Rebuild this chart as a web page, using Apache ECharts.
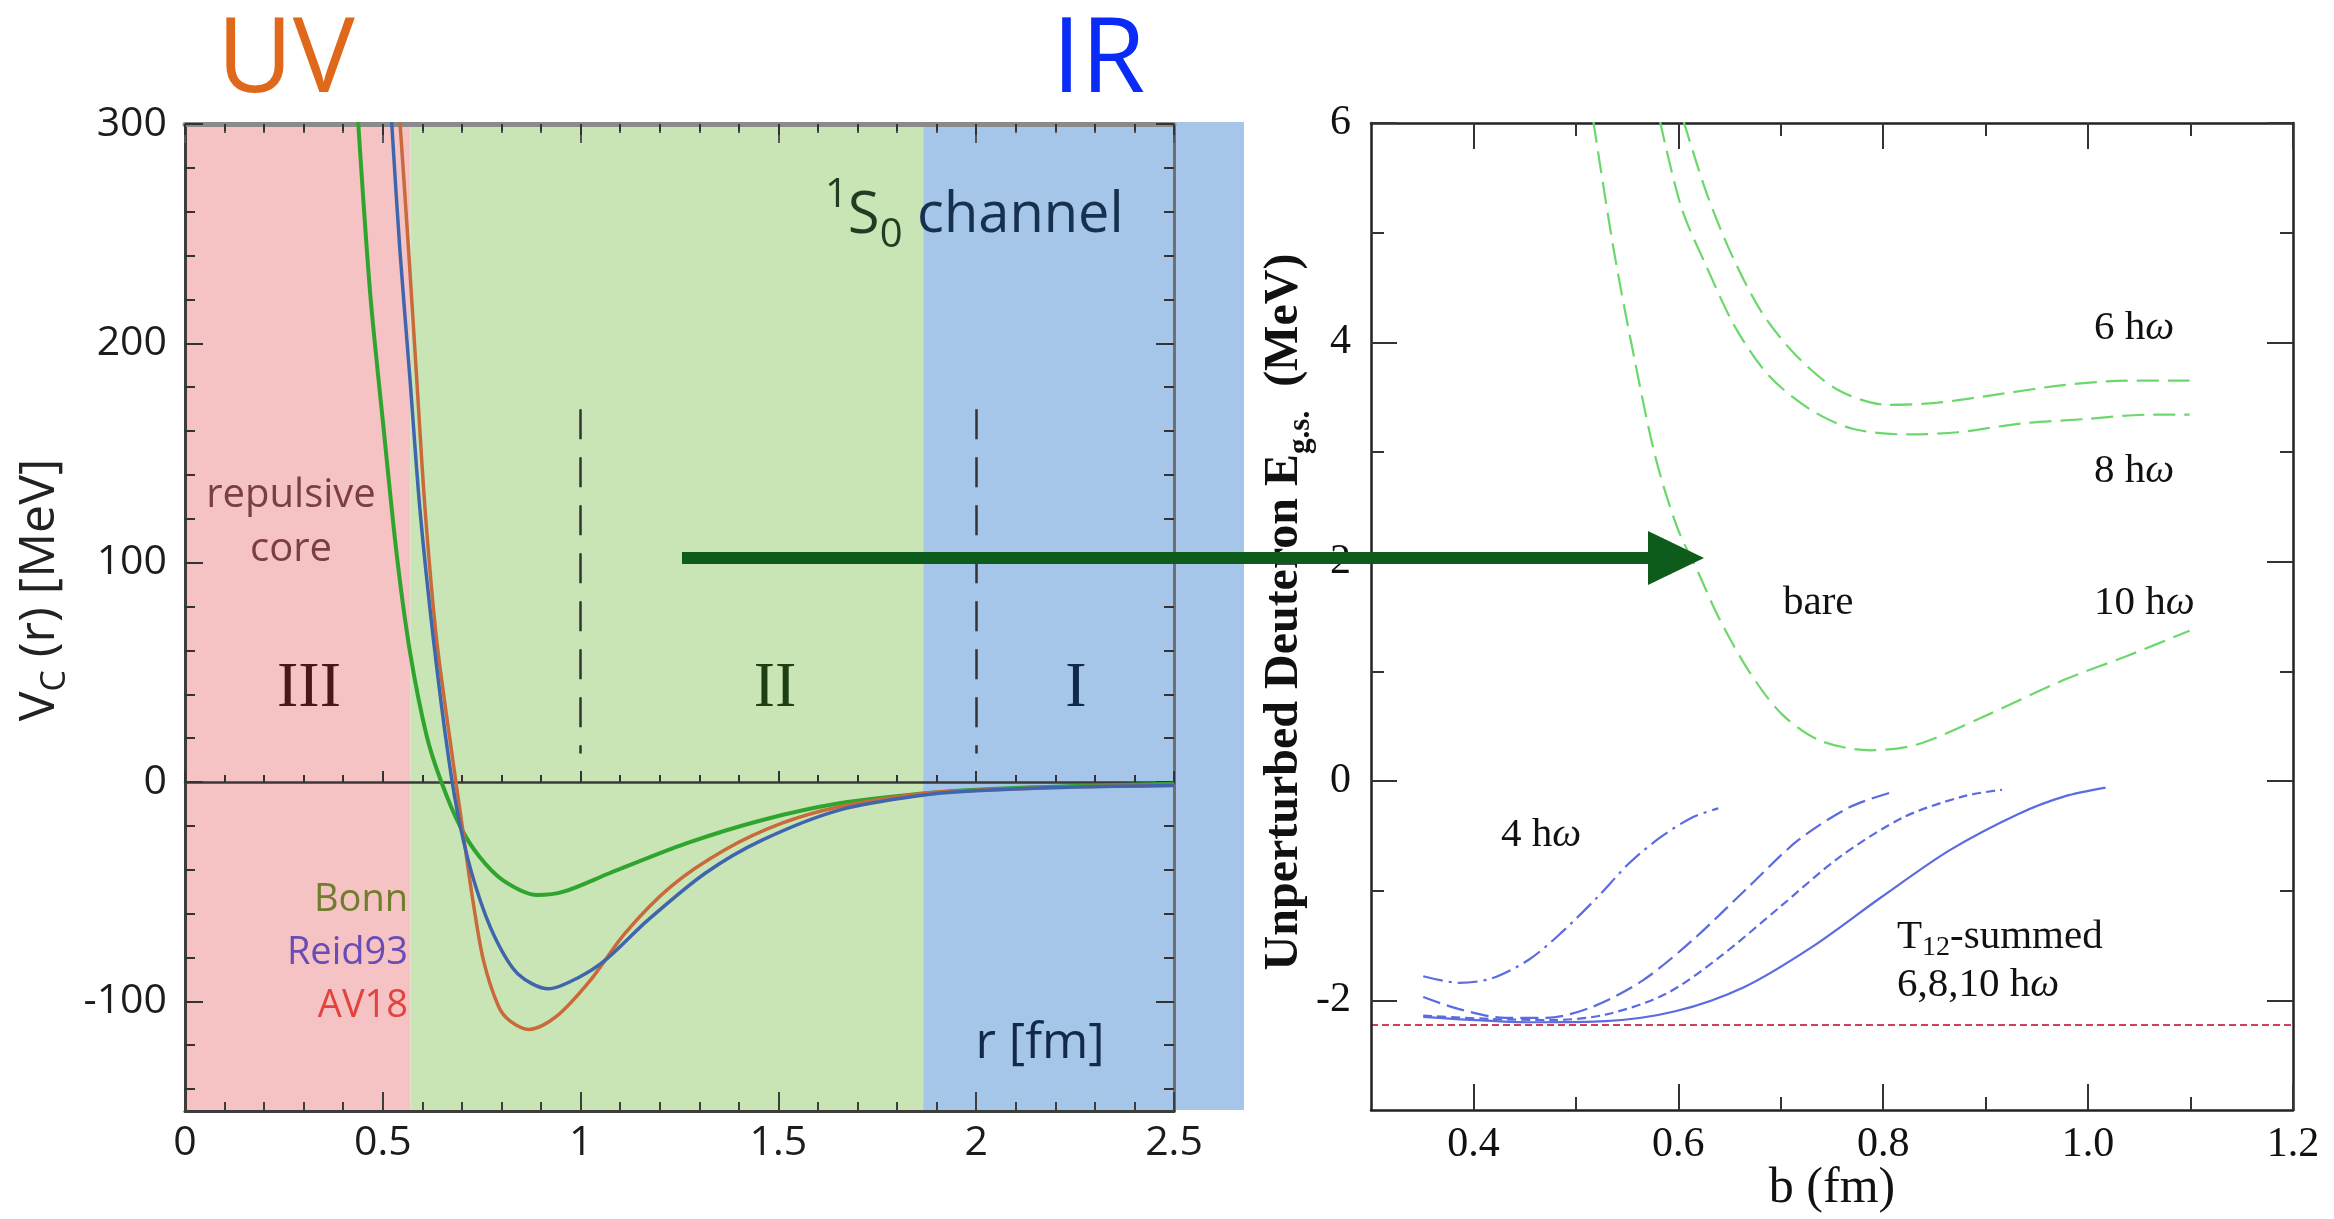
<!DOCTYPE html>
<html>
<head>
<meta charset="utf-8">
<title>1S0 potential and deuteron energy</title>
<script src="https://cdn.jsdelivr.net/npm/echarts@6.0.0/dist/echarts.min.js"></script>
<style>
  html, body { margin: 0; padding: 0; background: #fff; }
  #chart { width: 2334px; height: 1219px; }
</style>
</head>
<body>
<div id="chart"></div>
<script>
// ---- left panel: V_C(r) [MeV] against r [fm] ----
const bonnR = [0.437, 0.468, 0.501, 0.535, 0.569, 0.611, 0.648, 0.696, 0.744, 0.803, 0.890, 0.957, 1.073, 1.267, 1.460, 1.654, 1.865, 2.0, 2.25, 2.5];
const bonnV = [303, 223, 163, 104, 59, 21, 0, -20.4, -34, -44.7, -51.5, -50, -41.6, -28, -17.3, -9.7, -5.2, -3.5, -1.8, -0.8];

const reidR = [0.522, 0.543, 0.569, 0.594, 0.628, 0.667, 0.696, 0.735, 0.783, 0.841, 0.919, 0.996, 1.064, 1.170, 1.315, 1.460, 1.654, 1.865, 2.0, 2.25, 2.5];
const reidV = [302, 243, 183, 124, 65, 10, -20.4, -47.8, -70.7, -87.4, -94.3, -89, -81, -63, -41.6, -26.4, -12.8, -6, -4, -2.3, -1.6];

const av18R = [0.543, 0.565, 0.586, 0.607, 0.636, 0.677, 0.701, 0.725, 0.754, 0.793, 0.822, 0.870, 0.938, 1.025, 1.112, 1.228, 1.364, 1.509, 1.654, 1.865, 2.0, 2.25, 2.5];
const av18V = [302, 243, 183, 124, 65, 10, -20.4, -50.8, -81, -102.5, -109, -112.8, -107, -90.3, -69, -47.7, -31, -18.8, -11.3, -5.2, -3.8, -2.2, -1.5];

const regionEdges = [0, 0.57, 1.866, 2.5];          // III | II | I
const regionColors = ['#f5c3c3', '#c9e5b5', '#a5c6e8'];
const dashedR = [1, 2];
const dashedSpan = [170, 13];

// ---- right panel: unperturbed deuteron E_g.s. (MeV) against b (fm) ----
const bare6B = [0.605, 0.628, 0.652, 0.681, 0.714, 0.755, 0.804, 0.853, 0.915, 0.976, 1.038, 1.099];
const bare6E = [6.02, 5.35, 4.80, 4.28, 3.89, 3.57, 3.43, 3.45, 3.53, 3.61, 3.65, 3.65];
const bare8B = [0.582, 0.603, 0.628, 0.656, 0.689, 0.730, 0.771, 0.824, 0.873, 0.935, 0.997, 1.058, 1.099];
const bare8E = [6.02, 5.23, 4.68, 4.13, 3.69, 3.38, 3.21, 3.16, 3.18, 3.26, 3.30, 3.34, 3.34];
const bare10B = [0.517, 0.537, 0.558, 0.578, 0.599, 0.619, 0.640, 0.669, 0.701, 0.738, 0.787, 0.832, 0.894, 0.976, 1.038, 1.099];
const bare10E = [6.02, 4.84, 3.81, 2.94, 2.31, 1.91, 1.48, 1.00, 0.61, 0.37, 0.28, 0.33, 0.57, 0.92, 1.14, 1.37];

const t4B = [0.351, 0.386, 0.418, 0.454, 0.485, 0.521, 0.552, 0.583, 0.614, 0.639];
const t4E = [-1.78, -1.84, -1.80, -1.63, -1.39, -1.06, -0.75, -0.51, -0.33, -0.25];
const t6B = [0.351, 0.386, 0.431, 0.471, 0.516, 0.565, 0.614, 0.668, 0.717, 0.767, 0.809];
const t6E = [-1.97, -2.08, -2.16, -2.16, -2.06, -1.82, -1.45, -0.97, -0.54, -0.24, -0.10];
const t8B = [0.351, 0.418, 0.476, 0.529, 0.588, 0.641, 0.699, 0.758, 0.820, 0.878, 0.916];
const t8E = [-2.14, -2.17, -2.18, -2.13, -1.94, -1.60, -1.15, -0.69, -0.33, -0.14, -0.08];
const t10B = [0.351, 0.462, 0.529, 0.597, 0.664, 0.731, 0.798, 0.865, 0.932, 0.977, 1.017];
const t10E = [-2.15, -2.20, -2.19, -2.10, -1.88, -1.51, -1.06, -0.63, -0.30, -0.14, -0.06];

const deuteronE = -2.224;

// ---- layout ----
const sansF = '"Open Sans", "Liberation Sans", sans-serif';
const serifF = '"Liberation Serif", "DejaVu Serif", serif';

const L = { left: 185, top: 124, width: 989, height: 987 };   // r 0..2.5, V -150..300
const R = { left: 1371, top: 123, width: 922, height: 987 };  // b 0.3..1.2, E -3..6
const vPx = v => L.top + (300 - v) * L.height / 450;
const bPx = b => R.left + (b - 0.3) * R.width / 0.9;
const ePx = e => R.top + (6 - e) * R.height / 9;

const zip = (xs, ys) => xs.map((x, i) => [x, ys[i]]);
const g = o => Object.assign({ outerBoundsMode: 'none', containLabel: false }, o);

const grids = [
  g(L),                                                            // 0 left data
  g(R),                                                            // 1 right data
  g(L),                                                            // 2 zero line
  g({ left: L.left, width: L.width, top: L.top, height: vPx(-100) - L.top }),         // 3 left y ticks
  g({ left: L.left, width: L.width, top: vPx(-100), height: vPx(-140) - vPx(-100) }), // 4 left y ticks below -100
  g({ left: bPx(0.4), width: R.left + R.width - bPx(0.4), top: R.top, height: R.height }), // 5 right x ticks
  g({ left: R.left, width: R.width, top: R.top, height: ePx(-2) - R.top })            // 6 right y ticks
];

const off = { show: false };
const hiddenAxis = gi => ({ type: 'value', gridIndex: gi, show: false, min: 0, max: 1 });
const frame = (gi, pos, min, max, color, width) => ({
  type: 'value', gridIndex: gi, position: pos, min, max, z: 5,
  axisLine: { show: true, onZero: false, lineStyle: { color, width } },
  axisTick: off, axisLabel: off, splitLine: off
});
const ticks = (gi, pos, min, max, interval, len, minorSplit, minorLen, label, extra) => Object.assign({
  type: 'value', gridIndex: gi, position: pos, min, max, interval, z: 5,
  axisLine: { show: false, onZero: false },
  axisTick: { show: true, inside: true, length: len, lineStyle: { color: '#333', width: 2 } },
  minorTick: { show: minorSplit > 0, splitNumber: minorSplit || 5, length: minorLen, lineStyle: { color: '#333', width: 2 } },
  minorSplitLine: off, splitLine: off,
  axisLabel: label || off
}, extra || {});

const leftLabel = { show: true, fontFamily: sansF, fontSize: 41, color: '#1c1c1c' };
const rightLabel = { show: true, fontFamily: serifF, fontSize: 42, color: '#111' };

const xAxis = [
  Object.assign(frame(0, 'bottom', 0, 2.5, '#3d3d3d', 3), {
    interval: 0.5,
    axisTick: { show: true, inside: true, length: 19, lineStyle: { color: '#3d3d3d', width: 2 } },
    minorTick: { show: true, splitNumber: 5, length: 9, lineStyle: { color: '#3d3d3d', width: 2 } },
    axisLabel: Object.assign({ margin: 12 }, leftLabel)
  }),
  Object.assign(frame(0, 'top', 0, 2.5, '#8a8a8a', 5), {
    interval: 0.5,
    axisTick: { show: true, inside: true, length: 19, lineStyle: { color: '#555', width: 2 } },
    minorTick: { show: true, splitNumber: 5, length: 9, lineStyle: { color: '#555', width: 2 } }
  }),
  Object.assign(frame(1, 'bottom', 0.3, 1.2, '#222', 2.5), {
    name: 'b (fm)', nameLocation: 'middle', nameGap: 54,
    nameTextStyle: { fontFamily: serifF, fontSize: 50, color: '#111' }
  }),
  frame(1, 'top', 0.3, 1.2, '#222', 2.5),
  // zero line of the left panel, ticks crossing it
  ticks(2, 'bottom', 0, 2.5, 0.5, 11, 5, 7, null, { axisLine: { show: true, onZero: true, lineStyle: { color: '#3a3a3a', width: 2.5 } } }),
  ticks(2, 'top', 0, 2.5, 0.5, 11, 5, 7, null, { axisLine: { show: false, onZero: true } }),
  hiddenAxis(3),
  hiddenAxis(4),
  ticks(5, 'bottom', 0.4, 1.2, 0.2, 26, 2, 13, Object.assign({ margin: 14, formatter: v => v.toFixed(1) }, rightLabel)),
  ticks(5, 'top', 0.4, 1.2, 0.2, 26, 2, 13),
  hiddenAxis(6)
];

const yAxis = [
  frame(0, 'left', -150, 300, '#3d3d3d', 3),
  frame(0, 'right', -150, 300, '#6f6f6f', 3),
  frame(1, 'left', -3, 6, '#222', 2.5),
  frame(1, 'right', -3, 6, '#222', 2.5),
  { type: 'value', gridIndex: 2, show: false, min: -150, max: 300 },
  ticks(3, 'left', -100, 300, 100, 18, 5, 10, Object.assign({ margin: 18 }, leftLabel)),
  ticks(3, 'right', -100, 300, 100, 18, 5, 10),
  ticks(4, 'left', -140, -100, 20, 10, 0, 0),
  ticks(4, 'right', -140, -100, 20, 10, 0, 0),
  hiddenAxis(5),
  ticks(6, 'left', -2, 6, 2, 26, 2, 13, Object.assign({ margin: 20 }, rightLabel)),
  ticks(6, 'right', -2, 6, 2, 26, 2, 13)
];

const leftCurve = (name, xs, ys, color, width) => ({
  name, type: 'line', xAxisIndex: 0, yAxisIndex: 0, z: 6,
  data: zip(xs, ys), showSymbol: false, smooth: 0.3,
  lineStyle: { color, width }
});
const rightCurve = (name, xs, ys, color, type) => ({
  name, type: 'line', xAxisIndex: 2, yAxisIndex: 2, z: 6,
  data: zip(xs, ys), showSymbol: false, smooth: 0.3,
  lineStyle: { color, width: 2.2, type }
});

const bands = [];
for (let i = 0; i < regionColors.length; i++) {
  bands.push([
    { xAxis: regionEdges[i], yAxis: -150, itemStyle: { color: regionColors[i], opacity: 1 } },
    { xAxis: regionEdges[i + 1], yAxis: 300 }
  ]);
}

const series = [
  { type: 'line', xAxisIndex: 0, yAxisIndex: 0, z: 1, data: [], silent: true,
    markArea: { silent: true, data: bands } },
  { type: 'line', xAxisIndex: 0, yAxisIndex: 0, z: 4, data: [], silent: true,
    markLine: { silent: true, symbol: ['none', 'none'], label: off,
      lineStyle: { color: '#333', width: 2.5, type: [30, 18] },
      data: dashedR.map(r => [{ coord: [r, dashedSpan[0]] }, { coord: [r, dashedSpan[1]] }]) } },
  leftCurve('Bonn', bonnR, bonnV, '#2fa52f', 4),
  leftCurve('AV18', av18R, av18V, '#c86a3a', 3.5),
  leftCurve('Reid93', reidR, reidV, '#3f66ad', 3.5),

  rightCurve('bare 6 hω', bare6B, bare6E, '#6cd86c', [22, 9]),
  rightCurve('bare 8 hω', bare8B, bare8E, '#6cd86c', [22, 9]),
  rightCurve('bare 10 hω', bare10B, bare10E, '#6cd86c', [22, 9]),
  rightCurve('4 hω', t4B, t4E, '#5b6be0', [20, 6, 3, 6]),
  rightCurve('T12 6 hω', t6B, t6E, '#5b6be0', [18, 7]),
  rightCurve('T12 8 hω', t8B, t8E, '#5b6be0', [9, 5]),
  rightCurve('T12 10 hω', t10B, t10E, '#5b6be0', 'solid'),
  { type: 'line', xAxisIndex: 2, yAxisIndex: 2, z: 5, data: [], silent: true,
    markLine: { silent: true, symbol: ['none', 'none'], label: off,
      lineStyle: { color: '#d0405c', width: 1.8, type: [7, 4] },
      data: [{ yAxis: deuteronE }] } }
];

// ---- annotations ----
function txt(x, y, text, style) {
  return { type: 'text', x, y, z: 20, silent: true,
    style: Object.assign({ text, fontFamily: sansF, fontSize: 40, fill: '#222', align: 'left', verticalAlign: 'middle' }, style) };
}
const hw = (x, y, n) => txt(x, y, '{n|' + n + ' h}{w|ω}', {
  rich: { n: { fontFamily: serifF, fontSize: 41, fill: '#111' },
          w: { fontFamily: serifF, fontSize: 41, fontStyle: 'italic', fill: '#111' } } });

const graphic = [
  { type: 'rect', z: 0, silent: true, shape: { x: 1176, y: 122, width: 68, height: 988 }, style: { fill: regionColors[2] } },
  txt(217, 62, 'UV', { fontSize: 104, fill: '#e0681a' }),
  txt(1052, 62, 'IR', { fontSize: 104, fill: '#0b2cf6' }),
  txt(825, 216, '{sup|1}{S|S}{sub|0}{ch| channel}', {
    rich: {
      sup: { fontFamily: sansF, fontSize: 40, lineHeight: 40, verticalAlign: 'top', fill: '#1f3d22' },
      S: { fontFamily: sansF, fontSize: 58, lineHeight: 80, fill: '#1f3d22' },
      sub: { fontFamily: sansF, fontSize: 40, lineHeight: 40, verticalAlign: 'bottom', fill: '#1f3d22' },
      ch: { fontFamily: sansF, fontSize: 56, lineHeight: 80, fill: '#16304f' }
    } }),
  txt(291, 496, 'repulsive', { align: 'center', fontSize: 40, fill: '#7b3f3f' }),
  txt(291, 550, 'core', { align: 'center', fontSize: 40, fill: '#7b3f3f' }),
  txt(309, 689, 'III', { align: 'center', fontFamily: serifF, fontSize: 64, fill: '#4a1616' }),
  txt(775, 689, 'II', { align: 'center', fontFamily: serifF, fontSize: 64, fill: '#1f3d12' }),
  txt(1076, 689, 'I', { align: 'center', fontFamily: serifF, fontSize: 64, fill: '#10284a' }),
  txt(408, 900, 'Bonn', { align: 'right', fontSize: 38, fill: '#6f7d2c' }),
  txt(408, 953, 'Reid93', { align: 'right', fontSize: 38, fill: '#6a4cb4' }),
  txt(408, 1006, 'AV18', { align: 'right', fontSize: 38, fill: '#e2433c' }),
  txt(1040, 1044, 'r [fm]', { align: 'center', fontSize: 50, fill: '#13294a' }),
  { type: 'text', x: 40, y: 590, rotation: Math.PI / 2, z: 20, silent: true,
    style: { text: '{v|V}{s|C}{v| (r) [MeV]}', align: 'center', verticalAlign: 'middle',
      rich: { v: { fontFamily: sansF, fontSize: 50, lineHeight: 64, fill: '#222' },
              s: { fontFamily: sansF, fontSize: 34, lineHeight: 34, verticalAlign: 'bottom', fill: '#222' } } } },
  { type: 'text', x: 1285, y: 612, rotation: Math.PI / 2, z: 20, silent: true,
    style: { text: '{m|Unperturbed Deuteron E}{s|g.s.}{m|  (MeV)}', align: 'center', verticalAlign: 'middle',
      rich: { m: { fontFamily: serifF, fontSize: 48, fontWeight: 'bold', lineHeight: 62, fill: '#111' },
              s: { fontFamily: serifF, fontSize: 31, fontWeight: 'bold', lineHeight: 31, verticalAlign: 'bottom', fill: '#111' } } } },
  hw(2094, 328, '6'),
  hw(2094, 471, '8'),
  hw(2094, 603, '10'),
  txt(1783, 603, 'bare', { fontFamily: serifF, fontSize: 41, fill: '#111' }),
  hw(1501, 835, '4'),
  txt(1897, 937, '{t|T}{s|12}{t|-summed}', {
    rich: { t: { fontFamily: serifF, fontSize: 41, lineHeight: 50, fill: '#111' },
            s: { fontFamily: serifF, fontSize: 28, lineHeight: 28, verticalAlign: 'bottom', fill: '#111' } } }),
  hw(1897, 985, '6,8,10'),
  // arrow from the left panel to the right one
  { type: 'rect', z: 30, silent: true, shape: { x: 682, y: 552, width: 970, height: 12 }, style: { fill: '#0e5c1c' } },
  { type: 'polygon', z: 30, silent: true, shape: { points: [[1648, 531], [1704, 558], [1648, 585]] }, style: { fill: '#0e5c1c' } }
];

const chart = echarts.init(document.getElementById('chart'));
chart.setOption({
  animation: false,
  backgroundColor: '#ffffff',
  grid: grids,
  xAxis,
  yAxis,
  series,
  graphic
});
</script>
</body>
</html>
